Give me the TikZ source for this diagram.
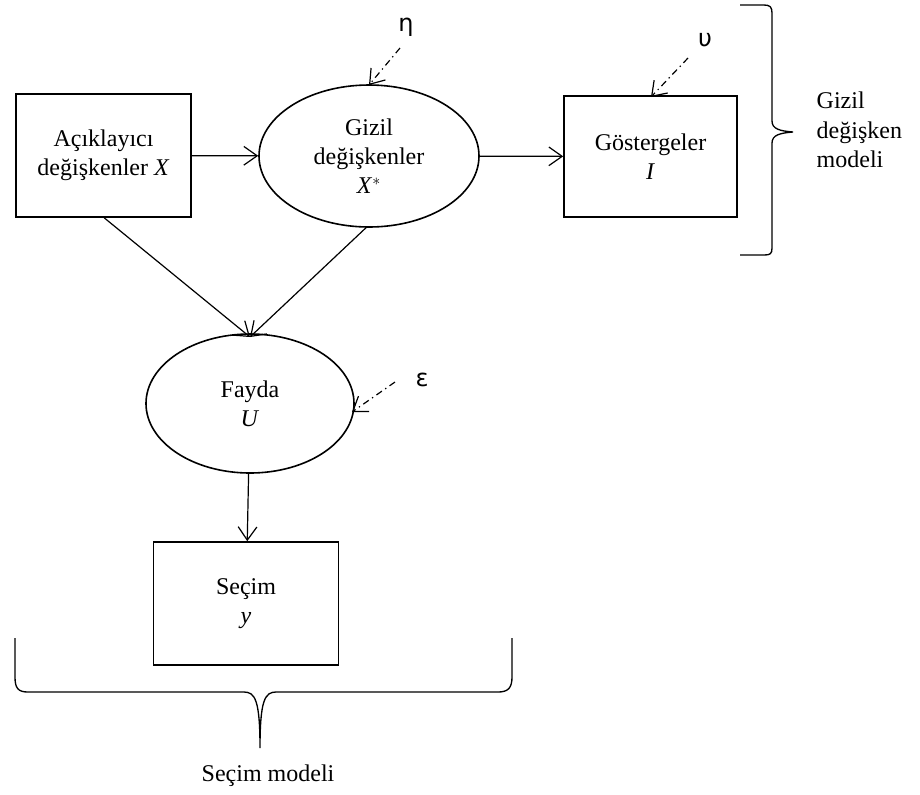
\documentclass[tikz,border=0pt]{standalone}
\usepackage{fontspec}
\setmainfont{Liberation Serif}
\newfontfamily\greekfont{DejaVu Sans}
\usetikzlibrary{arrows.meta,shapes.geometric}
\begin{document}
\begin{tikzpicture}[x=0.75pt,y=-0.75pt,
  every node/.style={font=\fontsize{18pt}{22pt}\selectfont, align=center},
  boxnode/.style={draw, line width=1.2pt, inner sep=0pt},
  ellnode/.style={draw, line width=1.2pt, ellipse, inner sep=0pt},
  link/.style={line width=0.9pt, -{Straight Barb[length=10pt,width=14pt,line width=0.9pt]}},
  noise/.style={line width=0.9pt, dash pattern=on 5pt off 3pt on 1pt off 3pt,
    -{Straight Barb[length=10pt,width=14pt,line width=0.9pt]}},
  brace/.style={line width=1pt},
  greek/.style={font=\greekfont\fontsize{18pt}{20pt}\selectfont}]
\useasboundingbox (0,0) rectangle (920,794);

% main nodes
\node[boxnode, minimum width=175*0.75pt, minimum height=123*0.75pt] (acik) at (103.5,155.5)
  {Açıklayıcı\\değişkenler \textit{X}};
\node[ellnode, minimum width=220*0.75pt, minimum height=142*0.75pt] (gizil) at (369,156)
  {Gizil\\değişkenler\\\textit{X}$^{*}$};
\node[boxnode, minimum width=173*0.75pt, minimum height=121*0.75pt] (gost) at (650.5,156.5)
  {Göstergeler\\\textit{I}};
\node[ellnode, minimum width=208*0.75pt, minimum height=139*0.75pt] (fayda) at (250,403.5)
  {Fayda\\\textit{U}};
\node[boxnode, minimum width=185*0.75pt, minimum height=123*0.75pt] (secim) at (246,603.5)
  {Seçim\\\textit{y}};

% structural arrows
\coordinate (ftop) at (250,337);
\draw[link] (acik) -- (gizil);
\draw[link] (gizil) -- (gost);
\draw[link] (acik.south west) ++(89,0) coordinate (aout) -- (ftop);
\draw[link] (gizil.south) ++(-2,-1) coordinate (gout) -- (ftop);
\draw[link] (fayda) -- (secim);

% error terms
\node[greek] (eta) at (406,27) {η};
\node[greek] (ups) at (705,40) {υ};
\node[greek] (eps) at (422,380) {ε};
\coordinate (etas) at (400,48);
\coordinate (etae) at (369,85);
\coordinate (upss) at (688,58);
\coordinate (upse) at (651,97);
\coordinate (epss) at (395,382);
\coordinate (epse) at (352,412);
\draw[noise] (etas) -- (etae);
\draw[noise] (upss) -- (upse);
\draw[noise] (epss) -- (epse);

% model braces
\draw[brace] (740,5) -- (764,5) .. controls (770,5) and (772,7) .. (772,13)
  -- (772,121) .. controls (772,129) and (780,131) .. (793,132)
  .. controls (780,133) and (772,135) .. (772,143)
  -- (772,248) .. controls (772,254) and (770,255) .. (764,255) -- (740,255);
\node[align=left, anchor=west] (gizlab) at (812,130) {Gizil\\değişken\\modeli};

\draw[brace] (15,638) -- (15,677) .. controls (15,688) and (18,692) .. (28,692)
  -- (244,692) .. controls (255,692) and (260,700) .. (260,748)
  .. controls (260,700) and (265,692) .. (276,692)
  -- (498,692) .. controls (508,692) and (512,688) .. (512,677) -- (512,638);
\node (seclab) at (268,776) {Seçim modeli};
\end{tikzpicture}
\end{document}
